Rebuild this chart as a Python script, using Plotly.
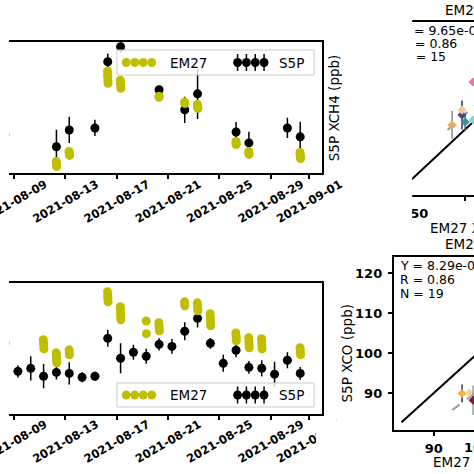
import plotly.graph_objects as go
from datetime import datetime

W = H = 474

# ---------------- data ----------------
tick_dates = ["2021-08-09", "2021-08-13", "2021-08-17", "2021-08-21",
              "2021-08-25", "2021-08-29", "2021-09-01"]
tick_labels = ["2021-08-09", "2021-08-13", "2021-08-17", "2021-08-21",
               "2021-08-25", "2021-08-29", "2021-09-01"]

# XCH4 time series
s5p_ch4_time = ["2021-08-12 07:30", "2021-08-13 07:30", "2021-08-15 07:30", "2021-08-16 07:30",
                "2021-08-17 07:30", "2021-08-20 07:30", "2021-08-22 07:30", "2021-08-23 07:30",
                "2021-08-26 07:30", "2021-08-27 07:30", "2021-08-30 07:30", "2021-08-31 07:30"]
s5p_ch4 = [1883.0, 1891.3, 1892.3, 1925.1, 1932.5, 1911.2, 1901.3, 1909.2, 1890.3, 1884.9, 1892.3, 1887.9]
s5p_ch4_err = [8.4, 6.5, 4.0, 4.0, 3.0, 2.0, 6.5, 12.5, 5.0, 5.5, 5.0, 7.5]

em27_ch4_time = ["2021-08-08 07:30",
                 "2021-08-12 07:05", "2021-08-12 07:25", "2021-08-12 07:45", "2021-08-12 08:05",
                 "2021-08-13 07:05", "2021-08-13 07:25", "2021-08-13 07:45", "2021-08-13 08:05",
                 "2021-08-16 07:00", "2021-08-16 07:15", "2021-08-16 07:30", "2021-08-16 07:45", "2021-08-16 08:00",
                 "2021-08-17 07:05", "2021-08-17 07:25", "2021-08-17 07:45", "2021-08-17 08:05",
                 "2021-08-20 07:20", "2021-08-20 07:40",
                 "2021-08-22 07:20", "2021-08-22 07:40",
                 "2021-08-23 07:05", "2021-08-23 07:25", "2021-08-23 07:45", "2021-08-23 08:05",
                 "2021-08-26 07:15", "2021-08-26 07:30", "2021-08-26 07:45",
                 "2021-08-27 07:15", "2021-08-27 07:30", "2021-08-27 07:45",
                 "2021-08-31 07:05", "2021-08-31 07:25", "2021-08-31 07:45", "2021-08-31 08:05"]
em27_ch4 = [1888.9,
            1875.7, 1874.9, 1873.9, 1873.2,
            1880.7, 1880.1, 1879.3, 1878.7,
            1920.4, 1918.6, 1917.5, 1915.8, 1914.4,
            1915.9, 1914.4, 1913.3, 1911.9,
            1908.0, 1907.5,
            1905.1, 1904.4,
            1904.0, 1903.2, 1902.8, 1902.0,
            1885.6, 1884.7, 1884.1,
            1880.7, 1879.8, 1879.2,
            1880.2, 1879.1, 1878.3, 1877.2]

# XCO time series
s5p_co_time = ["2021-08-09 07:30", "2021-08-10 07:30", "2021-08-11 07:30", "2021-08-12 07:30",
               "2021-08-13 07:30", "2021-08-14 07:30", "2021-08-15 07:30", "2021-08-16 07:30",
               "2021-08-17 07:30", "2021-08-18 07:30", "2021-08-19 07:30", "2021-08-20 07:30",
               "2021-08-21 07:30", "2021-08-22 07:30", "2021-08-23 07:30", "2021-08-24 07:30",
               "2021-08-25 07:30", "2021-08-26 07:30", "2021-08-27 07:30", "2021-08-28 07:30",
               "2021-08-29 07:30", "2021-08-30 07:30", "2021-08-31 07:30"]
s5p_co = [91.3, 92.8, 88.9, 90.8, 90.3, 88.4, 88.9, 107.7, 97.8, 100.8, 98.8, 104.7,
          103.7, 111.2, 117.6, 105.2, 95.3, 101.8, 93.3, 92.8, 89.9, 96.8, 90.3]
s5p_co_err = [3.0, 6.0, 6.0, 3.5, 5.5, 2.5, 2.2, 4.2, 7.4, 3.7, 3.7, 3.0,
              3.7, 4.5, 4.5, 2.7, 4.2, 3.5, 3.2, 4.0, 6.2, 4.0, 3.2]

em27_co_time = ["2021-08-08 07:30",
                "2021-08-11 07:05", "2021-08-11 07:25", "2021-08-11 07:45", "2021-08-11 08:05",
                "2021-08-12 07:05", "2021-08-12 07:25", "2021-08-12 07:45", "2021-08-12 08:05",
                "2021-08-13 07:15", "2021-08-13 07:30", "2021-08-13 07:45",
                "2021-08-16 07:05", "2021-08-16 07:25", "2021-08-16 07:45", "2021-08-16 08:05",
                "2021-08-17 07:00", "2021-08-17 07:15", "2021-08-17 07:30", "2021-08-17 07:45", "2021-08-17 08:00",
                "2021-08-19 07:20", "2021-08-19 07:40",
                "2021-08-20 07:05", "2021-08-20 07:25", "2021-08-20 07:45", "2021-08-20 08:05",
                "2021-08-22 07:15", "2021-08-22 07:30", "2021-08-22 07:45",
                "2021-08-23 07:05", "2021-08-23 07:25", "2021-08-23 07:45", "2021-08-23 08:05",
                "2021-08-24 07:00", "2021-08-24 07:15", "2021-08-24 07:30", "2021-08-24 07:45", "2021-08-24 08:00",
                "2021-08-26 07:05", "2021-08-26 07:25", "2021-08-26 07:45", "2021-08-26 08:05",
                "2021-08-27 07:05", "2021-08-27 07:25", "2021-08-27 07:45", "2021-08-27 08:05",
                "2021-08-28 07:05", "2021-08-28 07:25", "2021-08-28 07:45", "2021-08-28 08:05",
                "2021-08-31 07:05", "2021-08-31 07:25", "2021-08-31 07:45", "2021-08-31 08:05"]
em27_co = [105.2,
           107.0, 105.4, 104.1, 102.5,
           100.5, 98.8, 97.3, 95.6,
           102.0, 100.6, 99.5,
           130.8, 129.0, 127.6, 125.8,
           123.4, 121.9, 120.1, 118.6, 116.9,
           116.3, 110.0,
           115.4, 114.0, 112.8, 111.4,
           125.8, 124.7, 123.8,
           125.3, 124.1, 122.6, 121.4,
           119.9, 118.3, 117.0, 115.3, 113.9,
           110.4, 109.0, 107.9, 106.5,
           108.0, 106.2, 104.8, 103.0,
           107.5, 105.9, 104.1, 102.5,
           103.0, 101.9, 100.6, 99.5]

# scatter panels (EM27 vs S5P)
ch4_em27 = [1888.1, 1897.1, 1897.1, 1900.0, 1907.1, 1907.1]
ch4_s5p = [1904.2, 1913.9, 1918.7, 1907.1, 1909.0, 1945.9]
ch4_s5p_err = [13.6, 14.1, 0.0, 8.3, 0.0, 0.0]
ch4_em27_err = [4.0, 0.0, 0.0, 0.0, 0.0, 0.0]
ch4_colors = ["#f2aa5c", "#54427f", "#f4c49a", "#3f8f9a", "#86d3dd", "#e07aa6"]
ch4_errcolors = ["#8a8a8a", "#3b2f66", "#f4c49a", "#2f6f78", "#86d3dd", "#e07aa6"]
ch4_fit = (0.965, 81.34)
ch4_fit_x = [1883.9, 1910.0]
ch4_stats = ["Y = 9.65e-01X + 8.13e+01", "R = 0.86", "N = 15"]

co_em27 = [96.4, 98.0, 98.9]
co_s5p = [89.9, 90.0, 88.2]
co_s5p_err = [2.2, 0.0, 3.7]
co_em27_err = [1.0, 0.0, 0.0]
co_colors = ["#f5af50", "#e6d7a0", "#82143c"]
co_errcolors = ["#333333", "#e6d7a0", "#9a9a9a"]
co_fit = (0.829, 7.66)
co_fit_x = [94.2, 100.0]
co_stats = ["Y = 8.29e-01X + 7.66e+00", "R = 0.86", "N = 19"]

one_to_one_ch4 = [1800.0, 2000.0]
one_to_one_co = [82.7, 130.0]

# ---------------- helpers ----------------
def px(x):
    return x / W


def py(y):
    return 1 - y / H


FONT = "DejaVu Sans"
YEL = "#bfbf00"

fig = go.Figure()

# ---- time series traces ----
for (st, sv, se, et, ev, xa, ya) in [
    (s5p_ch4_time, s5p_ch4, s5p_ch4_err, em27_ch4_time, em27_ch4, "x", "y"),
    (s5p_co_time, s5p_co, s5p_co_err, em27_co_time, em27_co, "x2", "y2"),
]:
    fig.add_trace(go.Scatter(
        x=st, y=sv, mode="markers", xaxis=xa, yaxis=ya,
        marker=dict(color="black", size=9),
        error_y=dict(type="data", array=se, color="black", thickness=1.5, width=0),
        showlegend=False))
    fig.add_trace(go.Scatter(
        x=et, y=ev, mode="markers", xaxis=xa, yaxis=ya,
        marker=dict(color=YEL, size=9, line=dict(width=0)),
        showlegend=False))

# ---- scatter panels ----
def scatter_panel(ex, sy, se, ee, cols, ecols, fit, fitx, oto, xa, ya):
    fig.add_trace(go.Scatter(x=oto, y=oto, mode="lines", xaxis=xa, yaxis=ya,
                             line=dict(color="black", width=2), showlegend=False))
    fig.add_trace(go.Scatter(x=fitx, y=[fit[0] * v + fit[1] for v in fitx], mode="lines",
                             xaxis=xa, yaxis=ya,
                             line=dict(color="#9a9a9a", width=2, dash="dash"), showlegend=False))
    for i in range(len(ex)):
        fig.add_trace(go.Scatter(
            x=[ex[i]], y=[sy[i]], mode="markers", xaxis=xa, yaxis=ya,
            marker=dict(color=cols[i], size=7, symbol="diamond"),
            error_y=dict(type="data", array=[se[i]], color=ecols[i], thickness=1.5, width=0,
                         visible=se[i] > 0),
            error_x=dict(type="data", array=[ee[i]], color=cols[i], thickness=1.5, width=0,
                         visible=ee[i] > 0),
            showlegend=False))


scatter_panel(ch4_em27, ch4_s5p, ch4_s5p_err, ch4_em27_err, ch4_colors, ch4_errcolors,
              ch4_fit, ch4_fit_x, one_to_one_ch4, "x3", "y3")
scatter_panel(co_em27, co_s5p, co_s5p_err, co_em27_err, co_colors, co_errcolors,
              co_fit, co_fit_x, one_to_one_co, "x4", "y4")

# ---- axes geometry ----
TL = dict(x=(0, 319), y=(41.7, 173))
BL = dict(x=(0, 319), y=(283.3, 414.3))
TR = dict(x=(400, 474), y=(22, 195))
BR = dict(x=(392, 474), y=(257, 430))

date_range = ["2021-08-08 14:49", "2021-09-02 00:07"]
tr_xrange = [1841.96, 1908.04]
tr_yrange = [1836.2, 2004.2]
br_xrange = [80.9, 99.1]
br_yrange = [80.75, 124.0]

line_kw = dict(showline=True, linecolor="black", linewidth=1.5, showgrid=False, zeroline=False)
tick_kw = dict(ticks="outside", ticklen=4, tickwidth=1.5, tickcolor="black")
bold13 = dict(family=FONT, size=13, color="black", weight="bold")

layout = dict(
    width=W, height=H, margin=dict(l=0, r=0, t=0, b=0),
    paper_bgcolor="white", plot_bgcolor="white", showlegend=False,
    font=dict(family=FONT, color="black"),
    xaxis=dict(domain=[px(TL["x"][0]), px(TL["x"][1])], anchor="y", type="date",
               range=date_range, mirror=True, tickvals=tick_dates, showticklabels=False,
               **line_kw, **tick_kw),
    yaxis=dict(domain=[py(TL["y"][1]), py(TL["y"][0])], anchor="x", range=[1870, 1935],
               side="right", showticklabels=False, ticks="", **line_kw),
    xaxis2=dict(domain=[px(BL["x"][0]), px(BL["x"][1])], anchor="y2", type="date",
                range=date_range, mirror=True, tickvals=tick_dates, showticklabels=False,
                **line_kw, **tick_kw),
    yaxis2=dict(domain=[py(BL["y"][1]), py(BL["y"][0])], anchor="x2", range=[70, 135],
                side="right", showticklabels=False, ticks="", **line_kw),
    xaxis3=dict(domain=[px(TR["x"][0]), 1], anchor="y3", range=tr_xrange, mirror=True,
                tickvals=[1850, 1900], tickfont=bold13, ticklabelstandoff=2,
                **line_kw, **tick_kw),
    yaxis3=dict(domain=[py(TR["y"][1]), py(TR["y"][0])], anchor="x3", range=tr_yrange,
                visible=False),
    xaxis4=dict(domain=[px(BR["x"][0]), 1], anchor="y4", range=br_xrange, mirror=True,
                tickvals=[90, 100], tickfont=bold13, ticklabelstandoff=2,
                **line_kw, **tick_kw),
    yaxis4=dict(domain=[py(BR["y"][1]), py(BR["y"][0])], anchor="x4", range=br_yrange,
                tickvals=[90, 100, 110, 120], tickfont=bold13, ticklabelstandoff=3,
                **line_kw, **tick_kw),
)
fig.update_layout(**layout)

annotations = []
shapes = []

# date -> paper x through the time axis scale
_t0 = datetime.strptime(date_range[0], "%Y-%m-%d %H:%M")
_t1 = datetime.strptime(date_range[1], "%Y-%m-%d %H:%M")


def date_to_paper(d):
    t = datetime.strptime(d, "%Y-%m-%d")
    frac = (t - _t0).total_seconds() / (_t1 - _t0).total_seconds()
    return px(TL["x"][0]) + frac * (px(TL["x"][1]) - px(TL["x"][0]))


# rotated date tick labels (centred on tick, like matplotlib rotation=30),
# drawn as shape labels so the white crop mask can cover them
for ycen in [201, 441]:
    for d, lab in zip(tick_dates, tick_labels):
        xp = date_to_paper(d)
        shapes.append(dict(type="rect", xref="paper", yref="paper", x0=xp - 0.001, x1=xp + 0.001,
                           y0=py(ycen + 1), y1=py(ycen - 1), line=dict(width=0),
                           fillcolor="rgba(0,0,0,0)", layer="above",
                           label=dict(text=lab, textangle=-30, textposition="middle center",
                                      font=dict(family=FONT, size=11.5, color="black",
                                                weight="bold"))))

# "100" tick label of the bottom-right x axis (tick lies beyond the visible frame)
x100 = px(BR["x"][0]) + (100 - br_xrange[0]) / (br_xrange[1] - br_xrange[0]) * (1 - px(BR["x"][0]))
annotations.append(dict(x=x100, xref="paper", y=py(447), yref="paper", text="100",
                        showarrow=False, xanchor="center", yanchor="middle", font=bold13))

# axis titles / panel titles
txt = dict(family=FONT, size=13.5, color="black")


def note(x, y, text, xanchor="center", angle=0, font=txt):
    return dict(x=px(x), y=py(y), xref="paper", yref="paper", text=text, textangle=angle,
                xanchor=xanchor, yanchor="middle", showarrow=False, font=font)


annotations += [
    note(332, 107.5, "S5P XCH4 (ppb)", angle=-90),
    note(345, 353, "S5P XCO (ppb)", angle=-90),
    note(427, 228, "EM27 XCH4 (ppb)", "left"),
    note(430, 462, "EM27 XCO (ppb)", "left"),
    note(442, 10, "EM27 vs S5P", "left"),
    note(442, 244, "EM27 vs S5P", "left"),
]

# stats text in bottom-right panel
for s, yy in zip(co_stats, [265, 279, 293]):
    annotations.append(note(397, yy, s, "left", font=dict(family=FONT, size=12.5, color="black")))

# stats text in top-right panel (as text trace so the hidden part is masked)
def tr_data_x(pxv):
    return tr_xrange[0] + (pxv - TR["x"][0]) / (TR["x"][1] - TR["x"][0]) * (tr_xrange[1] - tr_xrange[0])


def tr_data_y(pyv):
    return tr_yrange[0] + (TR["y"][1] - pyv) / (TR["y"][1] - TR["y"][0]) * (tr_yrange[1] - tr_yrange[0])


fig.add_trace(go.Scatter(x=[tr_data_x(401)] * 3, y=[tr_data_y(v) for v in [32, 45, 58]],
                         mode="text", text=ch4_stats, textposition="middle right",
                         textfont=dict(family=FONT, size=12.5, color="black"),
                         xaxis="x3", yaxis="y3", cliponaxis=False, showlegend=False))

# white masks reproducing the cropped regions of the reference
shapes.append(dict(type="rect", xref="paper", yref="paper", x0=px(342), x1=px(411),
                   y0=py(220), y1=py(0), fillcolor="white", line=dict(width=0), layer="above"))
shapes.append(dict(type="rect", xref="paper", yref="paper", x0=px(313), x1=px(342),
                   y0=py(474), y1=py(421), fillcolor="white", line=dict(width=0), layer="above"))

# custom legends (4 markers per entry, like matplotlib numpoints=4)
for top, bot in [(50, 75), (383, 407)]:
    cy = (top + bot) / 2
    shapes.append(dict(type="rect", xref="paper", yref="paper", x0=px(110), x1=px(311),
                       y0=py(bot), y1=py(top), fillcolor="rgba(255,255,255,0.8)",
                       line=dict(color="#cccccc", width=1), layer="above"))
    for cx in [119.5, 128.2, 136.8, 145.5]:
        shapes.append(dict(type="circle", xref="paper", yref="paper",
                           x0=px(cx - 4.5), x1=px(cx + 4.5), y0=py(cy + 4.5), y1=py(cy - 4.5),
                           fillcolor=YEL, line=dict(width=0), layer="above"))
    for cx in [233, 242, 251, 260]:
        shapes.append(dict(type="line", xref="paper", yref="paper", x0=px(cx), x1=px(cx),
                           y0=py(cy + 8.5), y1=py(cy - 8.5),
                           line=dict(color="black", width=1.5), layer="above"))
        shapes.append(dict(type="circle", xref="paper", yref="paper",
                           x0=px(cx - 4.5), x1=px(cx + 4.5), y0=py(cy + 4.5), y1=py(cy - 4.5),
                           fillcolor="black", line=dict(width=0), layer="above"))
    annotations.append(note(162, cy, "EM27", "left"))
    annotations.append(note(273, cy, "S5P", "left"))

fig.update_layout(annotations=annotations, shapes=shapes)
fig.write_html("out.html", config={"displayModeBar": False},
               post_script="document.body.style.margin='0';document.body.style.overflow='hidden';")
